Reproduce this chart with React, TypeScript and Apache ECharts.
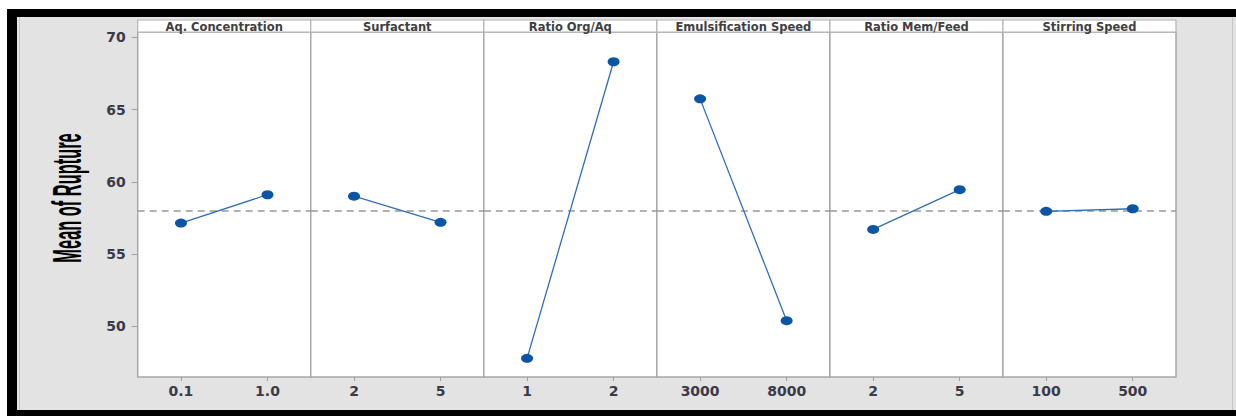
import React, { useEffect, useRef } from "react";
import * as echarts from "echarts";

const factors = ["Aq. Concentration", "Surfactant", "Ratio Org/Aq", "Emulsification Speed", "Ratio Mem/Feed", "Stirring Speed"];
const levels = [["0.1", "1.0"], ["2", "5"], ["1", "2"], ["3000", "8000"], ["2", "5"], ["100", "500"]];
const meanValues = [
  [57.14, 59.1],
  [59.0, 57.19],
  [47.77, 68.31],
  [65.74, 50.38],
  [56.7, 59.45],
  [57.95, 58.13],
];
const grandMean = 57.97;
const yTicks = [50, 55, 60, 65, 70];
const yAxisTitle = "Mean of Rupture";

const W = 1236;
const H = 416;
const PANEL_LEFT = 137.7;
const PANEL_W = 173.05;
const PANEL_TOP = 32;
const PANEL_H = 345;
const HEADER_TOP = 20;
const Y_MIN = 46.48;
const Y_MAX = 70.37;

export default function App() {
  const ref = useRef<HTMLDivElement>(null);
  useEffect(() => {
    if (!ref.current) return;
    const chart = echarts.init(ref.current, null, { renderer: "svg", width: W, height: H });
    const grids: any[] = [];
    const xAxes: any[] = [];
    const yAxes: any[] = [];
    const series: any[] = [];
    const graphics: any[] = [
      { type: "rect", shape: { x: 0, y: 0, width: W, height: H }, style: { fill: "#ffffff" }, z: -10 },
      { type: "rect", shape: { x: 7, y: 9, width: W - 7, height: H - 9 }, style: { fill: "#000000" }, z: -9 },
      { type: "rect", shape: { x: 17, y: 17, width: W - 17, height: 393 }, style: { fill: "#e3e3e3" }, z: -8 },
      { type: "line", shape: { x1: 19.5, y1: 17, x2: 19.5, y2: 410 }, style: { stroke: "#c6c6c6", lineWidth: 1 }, z: -7 },
      { type: "line", shape: { x1: 1232.5, y1: 17, x2: 1232.5, y2: 410 }, style: { stroke: "#c6c6c6", lineWidth: 1 }, z: -7 },
      {
        type: "text",
        x: 67,
        y: 198,
        rotation: Math.PI / 2,
        scaleX: 0.41,
        scaleY: 1,
        style: {
          text: yAxisTitle,
          fill: "#000000",
          font: 'bold 40px "Liberation Sans"',
          textAlign: "center",
          textVerticalAlign: "middle",
          align: "center",
          verticalAlign: "middle",
        },
        z: 10,
      },
    ];

    factors.forEach((name, i) => {
      const left = PANEL_LEFT + i * PANEL_W;
      grids.push({
        left,
        top: PANEL_TOP,
        width: PANEL_W,
        height: PANEL_H,
        show: true,
        backgroundColor: "#ffffff",
        borderColor: "#a8a8a8",
        borderWidth: 1.5,
        containLabel: false,
      });
      xAxes.push({
        type: "category",
        gridIndex: i,
        data: levels[i],
        boundaryGap: true,
        axisLine: { show: false },
        axisTick: { show: true, alignWithLabel: true, length: 4, lineStyle: { color: "#a0a0a0", width: 1 } },
        axisLabel: {
          show: true,
          margin: 7,
          fontFamily: "DejaVu Sans",
          fontWeight: "bold",
          fontSize: 14,
          color: "#3a3a48",
        },
        splitLine: { show: false },
      });
      yAxes.push({
        type: "value",
        gridIndex: i,
        min: Y_MIN,
        max: Y_MAX,
        show: i === 0,
        axisLine: { show: false },
        axisTick: {
          show: i === 0,
          length: 6,
          customValues: yTicks,
          lineStyle: { color: "#a0a0a0", width: 1 },
        },
        axisLabel: {
          show: i === 0,
          customValues: yTicks,
          margin: 12,
          fontFamily: "DejaVu Sans",
          fontWeight: "bold",
          fontSize: 14,
          color: "#3a3a48",
        },
        splitLine: { show: false },
      });
      series.push({
        type: "line",
        xAxisIndex: i,
        yAxisIndex: i,
        data: meanValues[i],
        symbol: "circle",
        symbolSize: [12, 9],
        itemStyle: { color: "#0b55a5" },
        lineStyle: { color: "#2f6db6", width: 1.3 },
        z: 5,
        markLine: {
          silent: true,
          symbol: "none",
          label: { show: false },
          lineStyle: { color: "#999999", type: [7, 5], width: 1.5 },
          data: [{ yAxis: grandMean }],
          z: 3,
        },
      });
      graphics.push({
        type: "rect",
        shape: { x: left, y: HEADER_TOP, width: PANEL_W, height: PANEL_TOP - HEADER_TOP },
        style: { fill: "#ffffff", stroke: "#b4b4b4", lineWidth: 1.2 },
        z: 1,
      });
      graphics.push({
        type: "text",
        x: left + PANEL_W / 2,
        y: HEADER_TOP + (PANEL_TOP - HEADER_TOP) / 2 + 0.5,
        style: {
          text: name,
          fill: "#404040",
          font: 'bold 11.5px "DejaVu Sans"',
          textAlign: "center",
          textVerticalAlign: "middle",
          align: "center",
          verticalAlign: "middle",
        },
        z: 2,
      });
    });

    chart.setOption({
      animation: false,
      backgroundColor: "#ffffff",
      grid: grids,
      xAxis: xAxes,
      yAxis: yAxes,
      series,
      graphic: { elements: graphics },
    });
    return () => chart.dispose();
  }, []);
  return <div ref={ref} style={{ position: "fixed", left: 0, top: 0, width: W, height: H }} />;
}
